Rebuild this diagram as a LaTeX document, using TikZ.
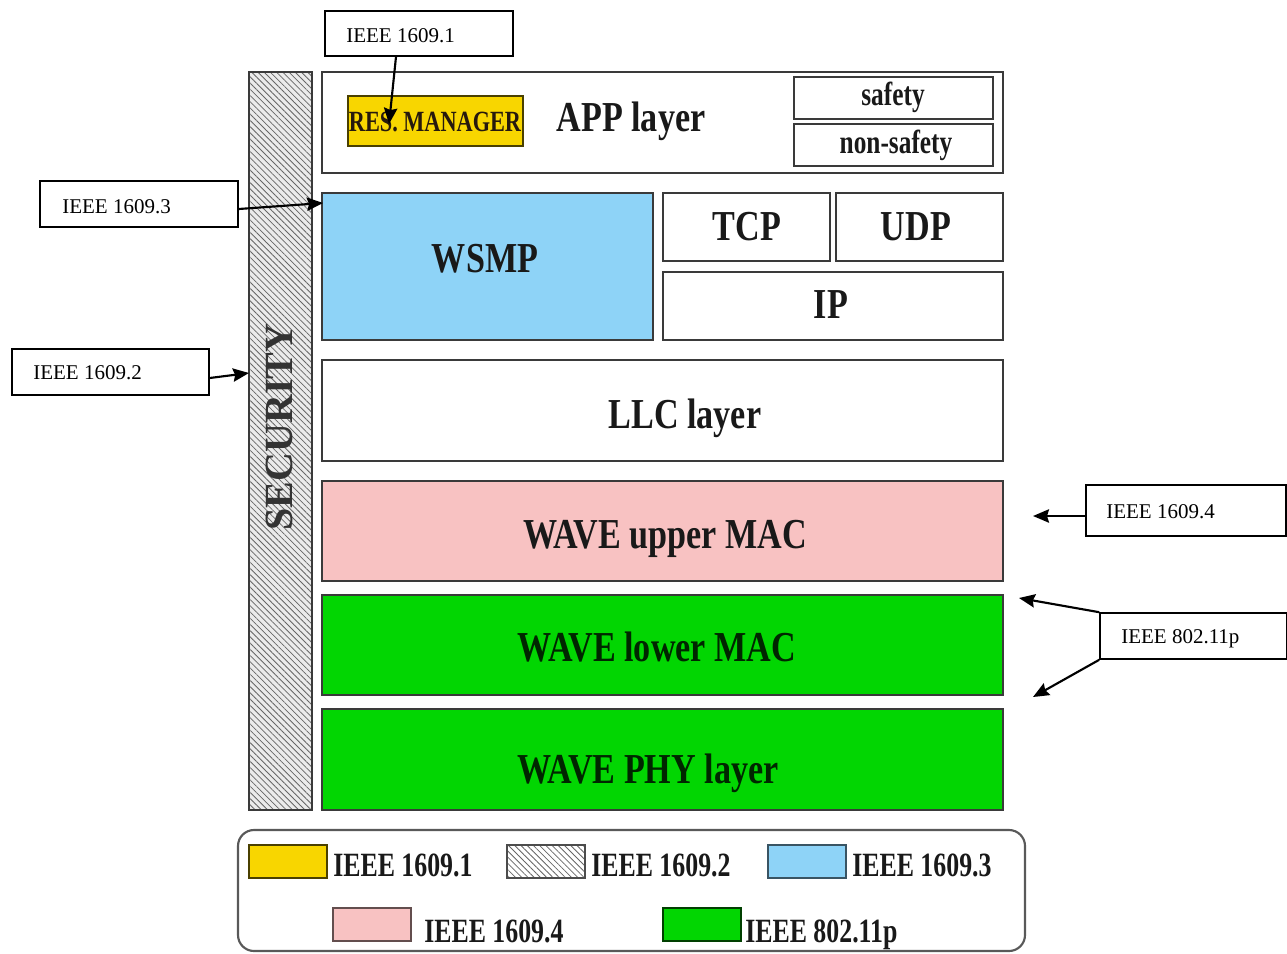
\documentclass[tikz,border=0pt]{standalone}
\usepackage{fontspec}
\setmainfont{Liberation Serif}
\newfontfamily\condfont{Liberation Serif}[FakeStretch=0.76]
\newfontfamily\labfont{Liberation Serif}[FakeStretch=0.80]
\usetikzlibrary{patterns,patterns.meta,fit,arrows.meta}
\definecolor{cyel}{HTML}{F8D600}
\definecolor{cblue}{HTML}{8ED3F7}
\definecolor{cpink}{HTML}{F8C2C2}
\definecolor{cgreen}{HTML}{02D602}
\definecolor{cedge}{HTML}{3A3A3A}
\begin{document}
\begin{tikzpicture}[x=0.75pt,y=-0.75pt,
  layer/.style={draw=cedge, line width=1.6pt, inner sep=0pt},
  lab/.style={font=\labfont\bfseries\fontsize{32}{32}\selectfont, text=black!90, inner sep=0pt, anchor=base},
  small/.style={font=\condfont\bfseries\fontsize{25}{25}\selectfont, text=black!90, inner sep=0pt, anchor=base},
  leg/.style={font=\condfont\bfseries\fontsize{25.5}{25.5}\selectfont, text=black!90, inner sep=0pt, anchor=base west},
  anno/.style={draw=black, line width=1.2pt, fill=white, inner sep=0pt},
  annotext/.style={font=\fontsize{15.75}{15.75}\selectfont, inner sep=0pt, anchor=base west},
  arr/.style={line width=1.6pt, -{Stealth[length=12pt,width=10pt,inset=1.5pt]}},
  hatch/.style={pattern={Lines[angle=-45,distance=3.3pt,line width=0.6pt]}, pattern color=black!60}
]
\useasboundingbox (0,0) rectangle (1287,953);

% security bar
\fill[black!8] (249,72) rectangle (312,810);
\node[layer, hatch, fit={(249,72)(312,810)}] (sec) {};
\node[font=\bfseries\fontsize{30}{30}\selectfont, text=black!80, rotate=90, inner sep=0pt, anchor=base] at (292,427) {SECURITY};

% APP layer
\node[layer, fit={(322,72)(1003,173)}] (app) {};
\node[layer, fill=cyel, draw=black!70!cyel, fit={(348,96)(523,146)}] (res) {};
\node[font=\condfont\bfseries\fontsize{22}{22}\selectfont, text=black!80!brown, inner sep=0pt, anchor=base] at (435,131) {RES. MANAGER};
\node[lab] at (631,131) {APP layer};
\node[layer, fit={(794,77)(993,119)}] (safe) {};
\node[small] at (893,105) {safety};
\node[layer, fit={(794,124)(993,166)}] (nsafe) {};
\node[small] at (896,153) {non-safety};

% WSMP / TCP / UDP / IP
\node[layer, fill=cblue, fit={(322,193)(653,340)}] (wsmp) {};
\node[lab] at (485,272) {WSMP};
\node[layer, fit={(663,193)(830,261)}] (tcp) {};
\node[lab] at (747,240) {TCP};
\node[layer, fit={(836,193)(1003,261)}] (udp) {};
\node[lab] at (916,240) {UDP};
\node[layer, fit={(663,272)(1003,340)}] (ip) {};
\node[lab] at (831,318) {IP};

% lower layers
\node[layer, fit={(322,360)(1003,461)}] (llc) {};
\node[lab] at (685,428) {LLC layer};
\node[layer, fill=cpink, fit={(322,481)(1003,581)}] (umac) {};
\node[lab] at (665,548) {WAVE upper MAC};
\node[layer, fill=cgreen, fit={(322,595)(1003,695)}] (lmac) {};
\node[lab, text=black!85!green] at (657,661) {WAVE lower MAC};
\node[layer, fill=cgreen, fit={(322,709)(1003,810)}] (phy) {};
\node[lab, text=black!85!green] at (648,783) {WAVE PHY layer};

% legend
\node[draw=black!65, line width=1.6pt, rounded corners=12pt, inner sep=0pt, fit={(238,830)(1025,951)}] (legend) {};
\node[layer, fill=cyel, draw=black!70!cyel, fit={(249,845)(327,878)}] (lg1) {};
\node[leg] at (333,876) {IEEE 1609.1};
\node[layer, hatch, draw=black!70, fit={(507,845)(585,878)}] (lg2) {};
\node[leg] at (591,876) {IEEE 1609.2};
\node[layer, fill=cblue, draw=black!60!cblue, fit={(768,845)(846,878)}] (lg3) {};
\node[leg] at (852,876) {IEEE 1609.3};
\node[layer, fill=cpink, draw=black!60!cpink, fit={(333,908)(411,941)}] (lg4) {};
\node[leg] at (424,942) {IEEE 1609.4};
\node[layer, fill=cgreen, draw=black!70!cgreen, fit={(663,908)(741,941)}] (lg5) {};
\node[leg] at (745,942) {IEEE 802.11p};

% annotation boxes
\node[anno, fit={(325,11)(513,56)}] (a1) {};
\node[annotext] at (346,42) {IEEE 1609.1};
\node[anno, fit={(40,181)(238,227)}] (a3) {};
\node[annotext] at (62,213) {IEEE 1609.3};
\node[anno, fit={(12,349)(209,395)}] (a2) {};
\node[annotext] at (33,379) {IEEE 1609.2};
\node[anno, fit={(1086,485)(1286,536)}] (a4) {};
\node[annotext] at (1106,518) {IEEE 1609.4};
\node[anno, fit={(1100,613)(1287,659)}] (a5) {};
\node[annotext] at (1121,643) {IEEE 802.11p};

% arrow targets
\coordinate (t1) at (389,124);
\coordinate (t3) at (323,203);
\coordinate (t2) at (249,373);
\coordinate (t4) at (1033,516);
\coordinate (t5a) at (1019,598);
\coordinate (t5b) at (1033,697);

\draw[arr] (a1.south -| 396,0) -- (t1);
\draw[arr] (a3.east |- 0,209) -- (t3);
\draw[arr] (a2.east |- 0,378) -- (t2);
\draw[arr] (a4.west |- 0,516) -- (t4);
\draw[arr] (a5.north west) -- (t5a);
\draw[arr] (a5.south west) -- (t5b);
\end{tikzpicture}
\end{document}
